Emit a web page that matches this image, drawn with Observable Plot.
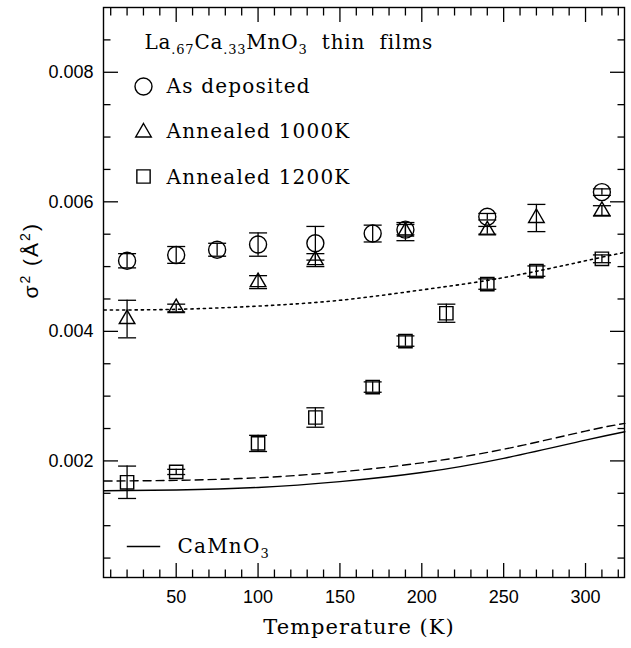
<!DOCTYPE html>
<html><head><meta charset="utf-8">
<script src="https://cdn.jsdelivr.net/npm/d3@7"></script>
<script src="https://cdn.jsdelivr.net/npm/@observablehq/plot@0.6"></script>
<style>
body{margin:0;background:#fff;}
#chart svg{display:block;}
</style></head><body><div id="chart"></div>
<script>
// As deposited (circles)
const asDepT = [20, 50, 75, 100, 135, 170, 190, 240, 310];
const asDepV = [0.00509, 0.00518, 0.00526, 0.00534, 0.00536, 0.00551, 0.00557, 0.00577, 0.00615];
const asDepE = [0.00011, 0.00013, 0.00010, 0.00018, 0.00026, 0.00013, 0.00008, 0.00005, 0.00005];
// Annealed 1000K (triangles)
const a1000T = [20, 50, 100, 135, 190, 240, 270, 310];
const a1000V = [0.00419, 0.00436, 0.00476, 0.00510, 0.00554, 0.00556, 0.00575, 0.00586];
const a1000E = [0.00029, 0.00006, 0.00010, 0.00010, 0.00014, 0.00006, 0.00021, 0.00008];
// Annealed 1200K (squares)
const a1200T = [20, 50, 100, 135, 170, 190, 215, 240, 270, 310];
const a1200V = [0.00167, 0.00183, 0.00227, 0.00267, 0.00314, 0.00385, 0.00428, 0.00473, 0.00493, 0.00512];
const a1200E = [0.00025, 0.00004, 0.000125, 0.00015, 0.00008, 0.00008, 0.00014, 0.00008, 0.00008, 0.00006];
// Model curves
const curveT = [6, 50, 100, 150, 200, 250, 300, 324];
const solidV = [0.00154, 0.00155, 0.00159, 0.00168, 0.00182, 0.00204, 0.00232, 0.00245];
const dashedV = [0.00169, 0.00170, 0.00174, 0.00183, 0.00197, 0.00218, 0.00246, 0.00258];
const dottedV = [0.00433, 0.00434, 0.00439, 0.00448, 0.00464, 0.00483, 0.00509, 0.00522];
// Ticks
const xMajor = [50, 100, 150, 200, 250, 300];
const xMinor = [10, 20, 30, 40, 60, 70, 80, 90, 110, 120, 130, 140, 160, 170, 180, 190, 210, 220, 230, 240, 260, 270, 280, 290, 310, 320];
const yMajor = [0.002, 0.004, 0.006, 0.008];
const yMinor = [0.0005, 0.001, 0.0015, 0.0025, 0.003, 0.0035, 0.0045, 0.005, 0.0055, 0.0065, 0.007, 0.0075, 0.0085];
// Texts
const xTitle = "Temperature (K)";
const yTitleParts = [["σ", 0], ["2", 2], [" (Å", 0], ["2", 2], [")", 0]];
const titleParts = [["La", 0], [".67", 1], ["Ca", 0], [".33", 1], ["MnO", 0], ["3", 1], ["  thin  films", 0]];
const legendLabels = ["As deposited", "Annealed 1000K", "Annealed 1200K"];
const legendSymbols = ["circle", "triangle", "square"];
const lineLegendParts = [["CaMnO", 0], ["3", 1]];

const rows = (T, V, E) => T.map((t, i) => ({T: t, v: V[i], e: E[i]}));
const asDep = rows(asDepT, asDepV, asDepE);
const a1000 = rows(a1000T, a1000V, a1000E);
const a1200 = rows(a1200T, a1200V, a1200E);
const curves = (V) => curveT.map((t, i) => ({T: t, v: V[i]}));

const hline = {draw(ctx, size) { const r = Math.sqrt(size / Math.PI); ctx.moveTo(-r, 0); ctx.lineTo(r, 0); }};
const symR = {circle: 8.5, triangle: 5.8, square: 7.5};
const SW = 1.4;
const sans = "Liberation Sans";
const serif = "DejaVu Serif";

function series(data, symbol) {
  return [
    Plot.ruleX(data, {x: "T", y1: d => d.v - d.e, y2: d => d.v + d.e, stroke: "black", strokeWidth: 1.3}),
    Plot.dot(data, {x: "T", y: d => d.v + d.e, symbol: hline, r: 9, stroke: "black", strokeWidth: 1.3}),
    Plot.dot(data, {x: "T", y: d => d.v - d.e, symbol: hline, r: 9, stroke: "black", strokeWidth: 1.3}),
    Plot.dot(data, {x: "T", y: "v", symbol, r: symR[symbol], stroke: "black", fill: "none", strokeWidth: SW})
  ];
}

const legendSymDy = [79, 125, 169];
const legendTextDy = [85, 130, 176];
const legendMarks = [];
legendLabels.forEach((lab, i) => {
  legendMarks.push(Plot.dot([lab], {frameAnchor: "top-left", dx: 40, dy: legendSymDy[i], symbol: legendSymbols[i], r: symR[legendSymbols[i]], stroke: "black", fill: "none", strokeWidth: SW}));
  legendMarks.push(Plot.text([lab], {frameAnchor: "top-left", dx: 63, dy: legendTextDy[i], text: d => d, textAnchor: "start", lineAnchor: "bottom", fontSize: 20, fontFamily: serif, fill: "black"}));
});

const noLabel = () => "";
const plot = Plot.plot({
  width: 631, height: 648,
  marginLeft: 103, marginRight: 7, marginTop: 7, marginBottom: 71,
  style: {background: "#fff", color: "black", fontFamily: sans},
  x: {domain: [5.6, 323.8], label: null},
  y: {domain: [0.0002, 0.009], label: null},
  marks: [
    Plot.line(curves(solidV), {x: "T", y: "v", curve: "natural", stroke: "black", strokeWidth: 1.4}),
    Plot.line(curves(dashedV), {x: "T", y: "v", curve: "natural", stroke: "black", strokeWidth: 1.4, strokeDasharray: "8,5"}),
    Plot.line(curves(dottedV), {x: "T", y: "v", curve: "natural", stroke: "black", strokeWidth: 1.6, strokeDasharray: "2.2,4"}),
    ...series(a1200, "square"),
    ...series(a1000, "triangle"),
    ...series(asDep, "circle"),
    // ticks (inward) on all sides
    Plot.axisX(xMajor, {anchor: "bottom", tickSize: -14, tickFormat: noLabel, label: null, strokeWidth: 1.3}),
    Plot.axisX(xMinor, {anchor: "bottom", tickSize: -7.5, tickFormat: noLabel, label: null, strokeWidth: 1.3}),
    Plot.axisX(xMajor, {anchor: "top", tickSize: -14, tickFormat: noLabel, label: null, strokeWidth: 1.3}),
    Plot.axisX(xMinor, {anchor: "top", tickSize: -7.5, tickFormat: noLabel, label: null, strokeWidth: 1.3}),
    Plot.axisY(yMajor, {anchor: "left", tickSize: -15, tickFormat: noLabel, label: null, strokeWidth: 1.3}),
    Plot.axisY(yMinor, {anchor: "left", tickSize: -7.5, tickFormat: noLabel, label: null, strokeWidth: 1.3}),
    Plot.axisY(yMajor, {anchor: "right", tickSize: -15, tickFormat: noLabel, label: null, strokeWidth: 1.3}),
    Plot.axisY(yMinor, {anchor: "right", tickSize: -7.5, tickFormat: noLabel, label: null, strokeWidth: 1.3}),
    // tick labels
    Plot.axisX(xMajor, {anchor: "bottom", tickSize: 0, tickPadding: 13, fontSize: 18, fontFamily: sans, label: null, fill: "black"}),
    Plot.axisY(yMajor, {anchor: "left", tickSize: 0, tickPadding: 10, fontSize: 18, fontFamily: sans, tickFormat: d3.format(".3f"), label: null, fill: "black"}),
    Plot.frame({stroke: "black", strokeWidth: 1.4}),
    // axis titles
    Plot.text([xTitle], {frameAnchor: "bottom", dx: -5, dy: 56, text: d => d, lineAnchor: "bottom", fontSize: 21, fontFamily: serif, fill: "black"}),
    Plot.text(["ytitle"], {frameAnchor: "left", dx: -66, dy: 6, rotate: -90, text: d => d, lineAnchor: "bottom", fontSize: 21, fontFamily: sans, fill: "black"}),
    // legend
    Plot.text(["ltitle"], {frameAnchor: "top-left", dx: 41, dy: 41, text: d => d, textAnchor: "start", lineAnchor: "bottom", fontSize: 20, fontFamily: serif, fill: "black"}),
    ...legendMarks,
    Plot.dot(["line"], {frameAnchor: "bottom-left", dx: 40, dy: -31, symbol: hline, r: 16.7, stroke: "black", strokeWidth: 1.4}),
    Plot.text(["llabel"], {frameAnchor: "bottom-left", dx: 74, dy: -25, text: d => d, textAnchor: "start", lineAnchor: "bottom", fontSize: 20, fontFamily: serif, fill: "black"})
  ]
});
document.getElementById("chart").appendChild(plot);

const allText = d3.select(plot).selectAll("text");
function findText(s) { return allText.filter(function () { return this.textContent === s; }); }
function richText(key, parts, spacing, subSize, shift) {
  const t = findText(key);
  t.text(null).style("white-space", "pre").style("letter-spacing", spacing + "px");
  let cur = 0;
  parts.forEach(([s, kind]) => {
    const ts = t.append("tspan").text(s);
    const target = kind === 1 ? shift : kind === 2 ? -shift * 1.6 : 0;
    if (target !== cur) ts.attr("dy", target - cur);
    if (kind) ts.attr("font-size", subSize);
    cur = target;
  });
}
richText("ltitle", titleParts, 0.8, 13, 5);
richText("llabel", lineLegendParts, 1.2, 13, 5);
richText("ytitle", yTitleParts, 2, 14, 5);
legendLabels.forEach(l => findText(l).style("letter-spacing", "1.2px"));
findText(xTitle).style("letter-spacing", "1px");
</script></body></html>
